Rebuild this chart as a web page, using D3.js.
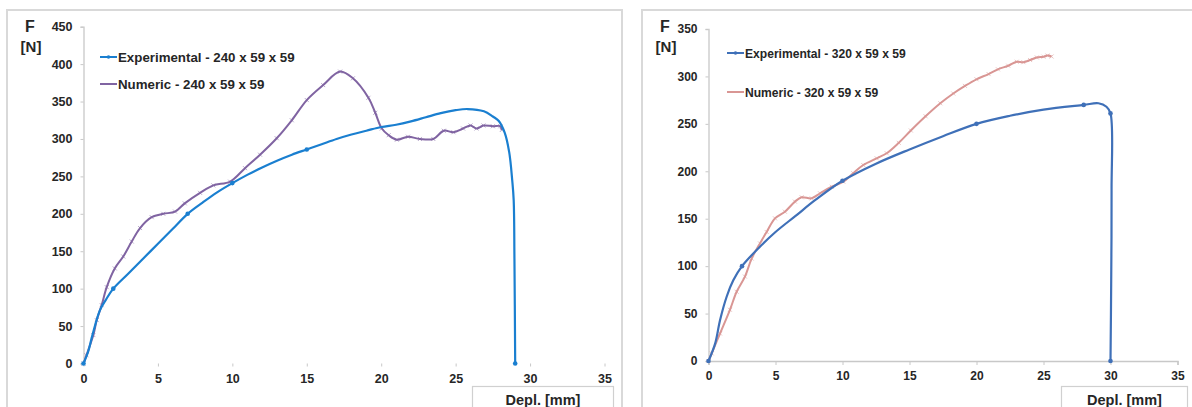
<!DOCTYPE html>
<html><head><meta charset="utf-8">
<script src="https://cdn.jsdelivr.net/npm/d3@7"></script>
<style>
html,body{margin:0;padding:0;background:#fff;}
text{font-family:"Liberation Sans",Arial,sans-serif;font-weight:bold;fill:#262626;}
</style></head>
<body>
<svg id="c" width="1192" height="407"></svg>
<script>
// ---------- DATA ----------
const xTicks = [0,5,10,15,20,25,30,35];
const yTicksLeft = [0,50,100,150,200,250,300,350,400,450];
const yTicksRight = [0,50,100,150,200,250,300,350];

const exp240Name = "Experimental - 240 x 59 x 59";
const num240Name = "Numeric - 240 x 59 x 59";
const exp320Name = "Experimental - 320 x 59 x 59";
const num320Name = "Numeric - 320 x 59 x 59";

const exp240X = [0,0.3,0.6,1.1,1.5,2,3,4,5,6,7,8,9,10,11,12,13,14,15,16,17,18,19,20,21,22,23,24,25,25.8,26.9,27.5,27.9,28.3,28.6,28.8,28.9,28.95,29];
const exp240Y = [0,15,38,71,85,100,120,140,160,180,200,215,229,241,252,262,271,279,286,293,300,306,311,316,319,323.5,329,334.5,338.5,340,337,330,324,308,282,245,218,140,0];
const exp240MarkX = [0,2,7,10,15,29];

const num240X = [0,0.2,0.66,0.89,1.22,1.56,2.1,2.67,3.24,3.8,4.58,5.36,6.15,6.8,7.83,8.72,9.85,10.85,11.86,12.98,13.99,15,16.1,17.24,18.1,19.14,19.6,20.04,20.5,21.05,21.8,22.6,23.5,24.2,24.85,25.5,26,26.4,26.87,27.5,28,28.1];
const num240Y = [0,11,38,58,78,102,127,143,163,181,195.5,200,203,214,228,238,243,261,279,301,325,352,372,390,381,355,335,314,305,299,303,300,300,311,309,314,318,314,318,317,317,312];

const exp320X = [0,0.5,0.86,1.36,1.85,2.5,3.84,5,6.5,8,10,12.5,15,17.5,20,22.5,25,28,29.1,29.7,30,30.08,30.05,30];
const exp320Y = [0,18.6,43,68,85,100,120.5,136,153,170,190,208,223,237,250,258.5,265,270,271.7,268,261,180,80,0];
const exp320MarkX = [0,2.5,10,20,28,30];

const num320X = [0,0.24,0.86,1.6,2.1,2.72,3.22,3.84,4.34,4.96,5.7,6.45,6.95,7.7,8.32,9.2,10.06,10.8,11.55,12.55,13.3,14.2,15.1,16.2,17.3,18.27,19.14,20,20.9,21.6,22.37,23,23.5,24,24.5,25,25.3,25.6];
const num320Y = [0,8,29,54,73,89,108,124,136,150.4,157.4,168,172.6,171.5,176.8,183.7,189,198,206.6,213.7,219,230,243,258,271.7,282,290,297,302.5,307.5,311.3,315.5,315,317.3,320,320.8,322,321];

// ---------- DRAW ----------
const svg = d3.select("#c");
const zip = (xs, ys) => xs.map((x,i)=>({x, y: ys[i]}));

function panel(cfg){
  const g = svg.append("g");
  // frame
  g.append("rect").attr("x",cfg.frame[0]).attr("y",cfg.frame[1]).attr("width",cfg.frame[2]).attr("height",cfg.frame[3])
    .attr("fill","#fff").attr("stroke","#d9d9d9").attr("stroke-width",2);
  const x = d3.scaleLinear().domain([0,35]).range(cfg.xr);
  const y = d3.scaleLinear().domain(cfg.yd).range(cfg.yr);

  // y axis
  const ya = g.append("g").attr("transform",`translate(${cfg.xr[0]},0)`)
    .call(d3.axisLeft(y).tickValues(cfg.yTicks).tickSize(3).tickPadding(cfg.yPad).tickFormat(d3.format("d")));
  ya.select(".domain").attr("stroke","#d0d0d0").attr("stroke-width",1.5);
  ya.selectAll(".tick line").attr("stroke","#c8c8c8");
  ya.selectAll(".tick text").style("font-size",cfg.tickFs+"px").style("font-family","Liberation Sans, Arial, sans-serif").style("font-weight","bold").attr("fill","#262626");

  // x axis
  const xa = g.append("g").attr("transform",`translate(0,${cfg.yr[0] + cfg.xOff})`)
    .call(d3.axisBottom(x).tickValues(xTicks).tickSize(cfg.xTick).tickPadding(cfg.xPad).tickFormat(d3.format("d")));
  xa.select(".domain").attr("stroke", cfg.xDomain ? "#c8c8c8" : "none").attr("stroke-width",1.5);
  xa.selectAll(".tick line").attr("stroke","#c8c8c8");
  xa.selectAll(".tick text").style("font-size",cfg.tickFs+"px").style("font-family","Liberation Sans, Arial, sans-serif").style("font-weight","bold").attr("fill","#262626");

  // F [N]
  g.append("text").attr("x",cfg.fx).attr("y",cfg.fy).attr("text-anchor","middle").style("font-size","16px").text("F");
  g.append("text").attr("x",cfg.fx+1).attr("y",cfg.fy+20).attr("text-anchor","middle").style("font-size","15px").text("[N]");

  // Depl box
  g.append("rect").attr("x",cfg.box[0]).attr("y",cfg.box[1]).attr("width",cfg.box[2]).attr("height",40)
    .attr("fill","#fff").attr("stroke","#d0d0d0").attr("stroke-width",1.2);
  g.append("text").attr("x",cfg.box[0]+cfg.box[2]/2).attr("y",405).attr("text-anchor","middle").style("font-size","14.5px").text("Depl. [mm]");

  const line = d3.line().x(d=>x(d.x)).y(d=>y(d.y)).curve(d3.curveCatmullRom.alpha(0.5));

  // numeric series
  const nd = zip(cfg.numX, cfg.numY);
  g.append("path").datum(nd).attr("d",line).attr("fill","none").attr("stroke",cfg.numColor).attr("stroke-width",2);
  g.selectAll(".nm").data(nd).enter().append("path")
    .attr("d",d=>`M${x(d.x)-2},${y(d.y)-2}L${x(d.x)+2},${y(d.y)+2}M${x(d.x)-2},${y(d.y)+2}L${x(d.x)+2},${y(d.y)-2}`)
    .attr("stroke",cfg.numColor).attr("stroke-width",1).attr("opacity",0.55);

  // experimental series
  const ed = zip(cfg.expX, cfg.expY);
  g.append("path").datum(ed).attr("d",line).attr("fill","none").attr("stroke",cfg.expColor).attr("stroke-width",2.2);
  const marks = ed.filter((d,i)=> cfg.expMarks.includes(d.x) && (i===0 || ed.findIndex(e=>e.x===d.x)===i || d.y===0));
  g.selectAll(".em").data(marks).enter().append("circle")
    .attr("cx",d=>x(d.x)).attr("cy",d=>y(d.y)).attr("r",2.3).attr("fill",cfg.expColor);

  // legend
  const L = cfg.leg;
  [[cfg.expColor, cfg.expName, L[2]],[cfg.numColor, cfg.numName, L[3]]].forEach(([c,t,yy],k)=>{
    g.append("line").attr("x1",L[0]).attr("x2",L[1]).attr("y1",yy).attr("y2",yy).attr("stroke",c).attr("stroke-width",2);
    if(k===0) g.append("circle").attr("cx",(L[0]+L[1])/2).attr("cy",yy).attr("r",1.8).attr("fill",c);
    g.append("text").attr("x",L[1]+1).attr("y",yy+4.6).style("font-size",cfg.legFs+"px").text(t);
  });
}

panel({
  frame:[7,10,615,430], xr:[83.5,604.5], yd:[0,450], yr:[363.5,26.7], yTicks:yTicksLeft,
  yPad:8, xOff:0, xTick:3, xPad:8, xDomain:false, tickFs:12.5,
  fx:30, fy:32, box:[472.5,386.5,141],
  numX:num240X, numY:num240Y, numColor:"#8064a2", numName:num240Name,
  expX:exp240X, expY:exp240Y, expColor:"#1a7fd0", expName:exp240Name, expMarks:exp240MarkX,
  leg:[100,117,57,84], legFs:13.3
});
panel({
  frame:[642,10,600,430], xr:[708.5,1177.5], yd:[0,350], yr:[361,29], yTicks:yTicksRight,
  yPad:8, xOff:0, xTick:4, xPad:6, xDomain:true, tickFs:12,
  fx:665, fy:32, box:[1061.5,386.5,126],
  numX:num320X, numY:num320Y, numColor:"#d99694", numName:num320Name,
  expX:exp320X, expY:exp320Y, expColor:"#3f70b8", expName:exp320Name, expMarks:exp320MarkX,
  leg:[727,744,53,92], legFs:12.1
});
</script>
</body></html>
